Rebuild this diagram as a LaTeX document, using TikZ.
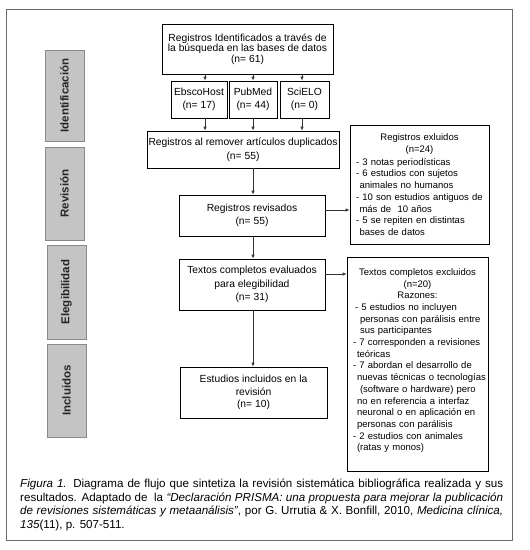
\documentclass[tikz,border=0pt]{standalone}
\usepackage{fontspec}
\setmainfont{Liberation Sans}
\usetikzlibrary{arrows.meta}
\definecolor{labgrey}{HTML}{C4C4C4}
\definecolor{labedge}{HTML}{8A8A8A}
\definecolor{frameg}{HTML}{6A6A6A}
\definecolor{arrowg}{HTML}{333333}
\tikzset{
  box/.style={draw=black, line width=0.7pt, align=center, inner sep=0pt,
    font=\fontsize{10.3}{12.5}\selectfont},
  sidebox/.style={draw=black, line width=0.7pt, align=left, inner xsep=6pt, inner ysep=0pt,
    font=\fontsize{9.5}{11.7}\selectfont},
  phase/.style={draw=labedge, fill=labgrey, line width=0.8pt, rotate=90, inner sep=0pt,
    font=\fontsize{11.5}{13}\selectfont\bfseries, text=black!85},
  arr/.style={draw=arrowg, line width=0.7pt, -{Latex[length=4pt,width=3.5pt]}},
}
\begin{document}
\begin{tikzpicture}[x=1pt,y=-1pt]
\useasboundingbox (0,0) rectangle (530,550);
\fill[white] (0,0) rectangle (530,550);
\node[draw=frameg, line width=1pt, minimum width=506pt, minimum height=531pt, inner sep=0pt] (frame) at (259,274.5) {};

% phase labels
\node[phase, minimum width=91pt, minimum height=39pt] (lid) at (64.5,95.5) {Identificación};
\node[phase, minimum width=93pt, minimum height=39pt] (lrev) at (64.5,193.5) {Revisión};
\node[phase, minimum width=94pt, minimum height=39pt] (leleg) at (66.5,292) {Elegibilidad};
\node[phase, minimum width=93pt, minimum height=39pt] (linc) at (66.5,390.5) {Incluidos};

% main boxes
\node[box, minimum width=171pt, minimum height=50pt, font=\fontsize{10.3}{10.6}\selectfont] (top) at (247.5,49)
  {Registros Identificados a través de\\la búsqueda en las bases de datos\\(n= 61)};
\node[box, minimum width=56pt, minimum height=37pt] (ebsco) at (199,99.5) {EbscoHost\\(n= 17)};
\node[box, minimum width=48pt, minimum height=37pt] (pubmed) at (253,99.5) {PubMed\\(n= 44)};
\node[box, minimum width=49pt, minimum height=37pt] (scielo) at (304.5,99.5) {SciELO\\(n= 0)};
\node[box, minimum width=192pt, minimum height=37pt, font=\fontsize{10.3}{13.8}\selectfont] (dup) at (243,149.5)
  {Registros al remover artículos duplicados\\(n= 55)};
\node[box, minimum width=146pt, minimum height=41pt, font=\fontsize{10.3}{13.5}\selectfont] (rev) at (252,215.5)
  {Registros revisados\\(n= 55)};
\node[box, minimum width=146pt, minimum height=51pt, font=\fontsize{10.3}{13.2}\selectfont] (eval) at (252,284.5)
  {Textos completos evaluados\\para elegibilidad\\(n= 31)};
\node[box, minimum width=147pt, minimum height=51pt, font=\fontsize{10.3}{12.6}\selectfont] (incl) at (253.5,392.5)
  {Estudios incluidos en la\\revisión\\(n= 10)};

% side boxes
\node[sidebox, text width=127pt, minimum height=119pt] (exc1) at (419.5,184.5)
  {\makebox[127pt][c]{Registros exluidos}\\
   \makebox[127pt][c]{(n=24)}\\[1.5pt]
   - 3 notas periodísticas\\
   - 6 estudios con sujetos\\
   \hspace*{3.5pt}animales no humanos\\
   - 10 son estudios antiguos de\\
   \hspace*{3.5pt}más de\ \ 10 años\\
   - 5 se repiten en distintas\\
   \hspace*{3.5pt}bases de datos};
\node[sidebox, text width=129pt, minimum height=214pt] (exc2) at (417.5,364)
  {\makebox[129pt][c]{Textos completos excluidos}\\
   \makebox[129pt][c]{(n=20)}\\
   \makebox[129pt][c]{Razones:}\\
   \hspace*{2pt}- 5 estudios no incluyen\\
   \hspace*{7pt}\mbox{personas con parálisis entre}\\
   \hspace*{7pt}sus participantes\\
   \mbox{- 7 corresponden a revisiones}\\
   \hspace*{4pt}teóricas\\
   - 7 abordan el desarrollo de\\
   \hspace*{4pt}\mbox{nuevas técnicas o tecnologías}\\
   \hspace*{7pt}\mbox{(software o hardware) pero}\\
   \hspace*{4pt}\mbox{no en referencia a interfaz}\\
   \hspace*{4pt}\mbox{neuronal o en aplicación en}\\
   \hspace*{4pt}personas con parálisis\\
   - 2 estudios con animales\\
   \hspace*{4pt}(ratas y monos)\\[-3pt]\mbox{}};

% connectors
\coordinate (ca) at (205,0);
\coordinate (cb) at (253,0);
\coordinate (cc) at (302,0);
\draw[arr] (top.south -| ca) -- (ebsco.north -| ca);
\draw[arr] (top.south -| cb) -- (pubmed.north -| cb);
\draw[arr] (top.south -| cc) -- (scielo.north -| cc);
\draw[arr] (ebsco.south -| ca) -- (dup.north -| ca);
\draw[arr] (pubmed.south -| cb) -- (dup.north -| cb);
\draw[arr] (scielo.south -| cc) -- (dup.north -| cc);
\coordinate (cm) at (253,0);
\draw[arr] (dup.south -| cm) -- (rev.north -| cm);
\draw[arr] (rev.south -| cm) -- (eval.north -| cm);
\draw[arr] (eval.south -| cm) -- (incl.north -| cm);
\coordinate (r1) at (0,210);
\coordinate (r2) at (0,274);
\draw[arr] (rev.east |- r1) -- (exc1.west |- r1);
\draw[arr] (eval.east |- r2) -- (exc2.west |- r2);

% caption
\node[anchor=north west, text width=483pt, align=justify, inner sep=0pt,
  font=\fontsize{11.6}{13.5}\selectfont] (cap) at (20,479)
  {\textit{Figura 1.} Diagrama de flujo que sintetiza la revisión sistemática bibliográfica realizada y sus\linebreak resultados. Adaptado de\ \ la \textit{“Declaración PRISMA: una propuesta para mejorar la publicación}\linebreak \textit{de revisiones sistemáticas y metaanálisis”}, por G. Urrutia \& X. Bonfill, 2010, \textit{Medicina clínica,}\linebreak \textit{135}(11), p. 507-511.};
\end{tikzpicture}
\end{document}
